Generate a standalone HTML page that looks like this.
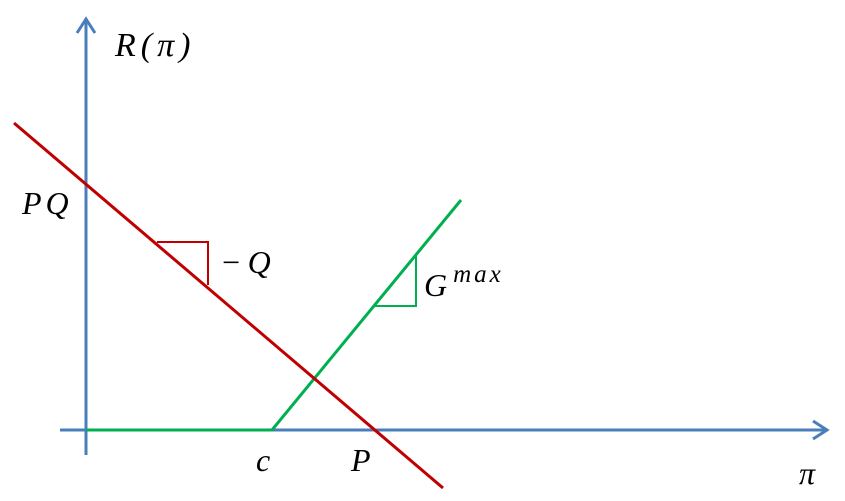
<!DOCTYPE html>
<html><head><meta charset="utf-8"><style>
html,body{margin:0;padding:0;background:#fff;}
svg{display:block;}
text{font-family:"Liberation Serif",serif;font-style:italic;fill:#000;}
</style></head><body>
<svg id="chart" width="845" height="501" viewBox="0 0 845 501">
<g id="axes">
<line x1="86" y1="455" x2="86" y2="20" stroke="#4a7ebb" stroke-width="3"/>
<polyline points="77,33 86,19 95,33" fill="none" stroke="#4a7ebb" stroke-width="3"/>
<line x1="60" y1="430" x2="827" y2="430" stroke="#4a7ebb" stroke-width="3"/>
<polyline points="813,421 827,430 813,439" fill="none" stroke="#4a7ebb" stroke-width="3"/>
</g>
<g id="marks"></g>
<text x="115" y="56" font-size="34" letter-spacing="5">R(π)</text>
<text x="22" y="214" font-size="32" letter-spacing="4">PQ</text>
<text x="220" y="273" font-size="32" letter-spacing="6">−Q</text>
<text x="424" y="296" font-size="32">G<tspan dx="6" dy="-14" font-size="25" letter-spacing="3">max</tspan></text>
<text x="256" y="471" font-size="32">c</text>
<text x="351" y="471" font-size="32">P</text>
<text x="799" y="484" font-size="32">π</text>
</svg>
<script>
// data in units relative to origin (86,430), y up
const redX = [-72, 357];
const redY = [307, -58];
const greenX = [0, 186, 375];
const greenY = [0, 0, 230];
const redTriX = [71, 122, 122];
const redTriY = [188, 188, 145];
const greenTriX = [287, 330, 330];
const greenTriY = [124, 124, 175];

const ox = 86, oy = 430;
function sx(v){ return ox + v; }
function sy(v){ return oy - v; }
const ns = "http://www.w3.org/2000/svg";
const g = document.getElementById('marks');
function poly(xs, ys, color, w){
  const p = document.createElementNS(ns, 'polyline');
  p.setAttribute('points', xs.map((x,i)=>sx(x)+','+sy(ys[i])).join(' '));
  p.setAttribute('fill','none');
  p.setAttribute('stroke',color);
  p.setAttribute('stroke-width',w);
  g.appendChild(p);
  return p;
}
const gl = poly(greenX, greenY, '#00b050', 3);


const rl = poly(redX, redY, '#c00000', 3);


const rt = poly(redTriX, redTriY, '#c00000', 2);


const gt = poly(greenTriX, greenTriY, '#00b050', 2);


</script>
</body></html>
